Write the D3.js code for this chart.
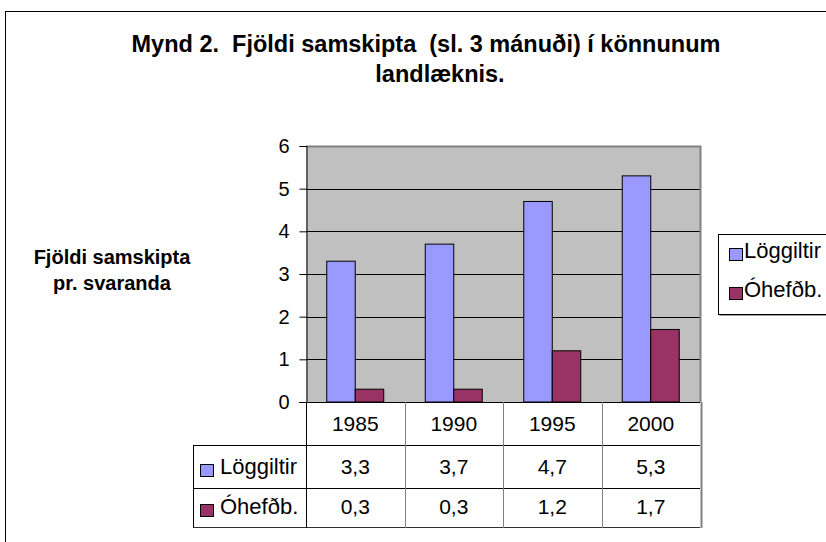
<!DOCTYPE html>
<html>
<head>
<meta charset="utf-8">
<script src="https://cdn.jsdelivr.net/npm/d3@7/dist/d3.min.js"></script>
<style>
  html, body { margin: 0; padding: 0; background: #fff; }
  svg { display: block; font-family: "Liberation Sans", Arial, sans-serif; }
  text { white-space: pre; }
</style>
</head>
<body>
<svg id="chart" width="826" height="542"></svg>
<script>
// ---- data ----
const categories = ["1985", "1990", "1995", "2000"];
const seriesNames = ["Löggiltir", "Óhefðb."];
const loggiltir = [3.3, 3.7, 4.7, 5.3];
const ohefdb = [0.3, 0.3, 1.2, 1.7];
const valueLabels = [["3,3", "3,7", "4,7", "5,3"], ["0,3", "0,3", "1,2", "1,7"]];
const yTicks = [0, 1, 2, 3, 4, 5, 6];
const titleLines = ["Mynd 2.  Fjöldi samskipta  (sl. 3 mánuði) í könnunum", "landlæknis."];
const yTitleLines = ["Fjöldi samskipta", "pr. svaranda"];
const seriesColors = ["#9999FF", "#993366"];

const seriesValues = [loggiltir, ohefdb];

const svg = d3.select("#chart");

// outer chart border
svg.append("rect").attr("x", 5.5).attr("y", 11.5).attr("width", 840).attr("height", 560)
  .attr("fill", "#fff").attr("stroke", "#000").attr("stroke-width", 1);

// title
svg.append("text").attr("x", 426).attr("y", 52).attr("text-anchor", "middle")
  .attr("font-size", 23.5).attr("font-weight", "bold").text(titleLines[0]);
svg.append("text").attr("x", 440).attr("y", 82).attr("text-anchor", "middle")
  .attr("font-size", 23.5).attr("font-weight", "bold").text(titleLines[1]);

// y axis title
svg.append("text").attr("x", 112).attr("y", 264).attr("text-anchor", "middle")
  .attr("font-size", 20).attr("font-weight", "bold").text(yTitleLines[0]);
svg.append("text").attr("x", 112).attr("y", 290).attr("text-anchor", "middle")
  .attr("font-size", 20).attr("font-weight", "bold").text(yTitleLines[1]);

// plot area
const plotL = 306, plotR = 700, plotT = 146, plotB = 402;
const x = d3.scaleBand().domain(categories).range([plotL, plotR]).padding(0);
const y = d3.scaleLinear().domain([0, 6]).range([plotB, plotT]);
const groupPad = 20.75;

svg.append("rect").attr("x", plotL).attr("y", plotT).attr("width", plotR - plotL).attr("height", plotB - plotT)
  .attr("fill", "#C0C0C0");

// gridlines
svg.append("g").selectAll("line").data(yTicks.filter(d => d > 0 && d < 6)).join("line")
  .attr("x1", plotL).attr("x2", plotR)
  .attr("y1", d => Math.round(y(d)) + 0.5).attr("y2", d => Math.round(y(d)) + 0.5)
  .attr("stroke", "#000").attr("stroke-width", 1);

// plot border top/right (gray)
svg.append("path")
  .attr("d", `M${plotL},${plotT + 0.5}H${plotR + 0.5}V${plotB}`)
  .attr("fill", "none").attr("stroke", "#808080").attr("stroke-width", 2);

// bars
categories.forEach((c, i) => {
  const inner = d3.scaleBand().domain(seriesNames)
    .range([x(c) + groupPad, x(c) + x.bandwidth() - groupPad]).padding(0);
  seriesNames.forEach((s, k) => {
    const v = seriesValues[k][i];
    svg.append("rect")
      .attr("x", inner(s)).attr("y", y(v))
      .attr("width", inner.bandwidth()).attr("height", y(0) - y(v))
      .attr("fill", seriesColors[k]).attr("stroke", "#000").attr("stroke-width", 1);
  });
});

// y axis
const yAxis = d3.axisLeft(y).tickValues(yTicks).tickSize(7).tickPadding(10).tickFormat(d3.format("d"));
const ya = svg.append("g").attr("transform", `translate(${plotL + 0.5},0)`).call(yAxis);
ya.select(".domain").attr("stroke", "#000");
ya.selectAll(".tick line").attr("stroke", "#000");
ya.selectAll(".tick text").attr("font-size", 20).attr("font-family", "Liberation Sans, Arial, sans-serif").attr("fill", "#000");

// x axis baseline
svg.append("line").attr("x1", plotL - 7).attr("x2", plotR).attr("y1", plotB + 0.5).attr("y2", plotB + 0.5)
  .attr("stroke", "#000");

// data table
const tableL = 193, rowH = [402, 445, 488, 527];
const t = svg.append("g");
t.append("line").attr("x1", tableL).attr("x2", plotR).attr("y1", rowH[1] + 0.5).attr("y2", rowH[1] + 0.5).attr("stroke", "#000");
t.append("line").attr("x1", tableL).attr("x2", plotR).attr("y1", rowH[2] + 0.5).attr("y2", rowH[2] + 0.5).attr("stroke", "#000");
t.append("line").attr("x1", tableL).attr("x2", plotR).attr("y1", rowH[3] + 0.5).attr("y2", rowH[3] + 0.5).attr("stroke", "#333");
t.append("line").attr("x1", tableL + 0.5).attr("x2", tableL + 0.5).attr("y1", rowH[1]).attr("y2", rowH[3] + 1).attr("stroke", "#000");
t.append("line").attr("x1", plotL + 0.5).attr("x2", plotL + 0.5).attr("y1", plotB).attr("y2", rowH[3] + 1).attr("stroke", "#000");
categories.forEach((c, i) => {
  const xx = i === categories.length - 1 ? plotR + 0.5 : x(c) + x.bandwidth();
  t.append("line").attr("x1", Math.round(xx) + 0.5).attr("x2", Math.round(xx) + 0.5)
    .attr("y1", plotB).attr("y2", rowH[3] + 1)
    .attr("stroke", "#808080").attr("stroke-width", i === categories.length - 1 ? 2 : 1);
});
t.selectAll("text.cat").data(categories).join("text").attr("class", "cat")
  .attr("x", d => x(d) + x.bandwidth() / 2).attr("y", 431).attr("text-anchor", "middle")
  .attr("font-size", 21).text(d => d);
seriesNames.forEach((s, k) => {
  const base = [474, 514][k];
  t.append("rect").attr("x", 200.5).attr("y", base - 9.5).attr("width", 13).attr("height", 12)
    .attr("fill", seriesColors[k]).attr("stroke", "#000").attr("stroke-width", 1);
  t.append("text").attr("x", 220).attr("y", base).attr("font-size", 22).text(s);
  t.selectAll(null).data(categories).join("text")
    .attr("x", d => x(d) + x.bandwidth() / 2).attr("y", base).attr("text-anchor", "middle")
    .attr("font-size", 21).text((d, i) => valueLabels[k][i]);
});

// legend
const lg = svg.append("g");
lg.append("rect").attr("x", 719.5).attr("y", 235.5).attr("width", 130).attr("height", 80)
  .attr("fill", "#404040");
lg.append("rect").attr("x", 718.5).attr("y", 234.5).attr("width", 130).attr("height", 80)
  .attr("fill", "#fff").attr("stroke", "#000").attr("stroke-width", 1);
seriesNames.forEach((s, k) => {
  const base = [258, 297][k];
  lg.append("rect").attr("x", 729.5).attr("y", base - 9.5).attr("width", 13).attr("height", 12)
    .attr("fill", seriesColors[k]).attr("stroke", "#000").attr("stroke-width", 1);
  lg.append("text").attr("x", 744).attr("y", base).attr("font-size", 22).text(s);
});
</script>
</body>
</html>
